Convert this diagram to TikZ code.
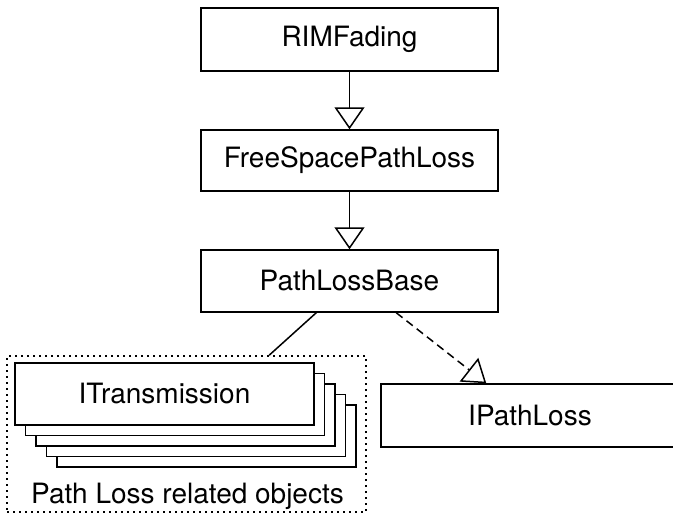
\documentclass[tikz,border=0pt]{standalone}
\usepackage{fontspec}
\setmainfont{TeX Gyre Heros}
\usetikzlibrary{arrows.meta,calc}
\begin{document}
\begin{tikzpicture}[x=1pt,y=-1pt,
  every node/.style={font=\fontsize{28}{33}\selectfont},
  box/.style={draw, line width=1.5pt, fill=white, inner sep=0pt},
  grpbox/.style={draw, line width=1.6pt, dash pattern=on 2pt off 4pt, inner sep=0pt},
  inh/.style={line width=1.5pt, -{Triangle[open, length=22pt, width=30pt, line width=1.5pt]}},
  link/.style={line width=1.5pt}
]
\useasboundingbox (0,0) rectangle (673,514);
\clip (0,0) rectangle (673,514);

\node[box, minimum width=297pt, minimum height=63pt] (rim) at (349.5,39.5) {RIMFading};
\node[box, minimum width=297pt, minimum height=61pt] (fsp) at (349.5,160.5) {FreeSpacePathLoss};
\node[box, minimum width=297pt, minimum height=62pt] (plb) at (349.5,281) {PathLossBase};
\node[box, minimum width=298pt, minimum height=63pt] (ipl) at (530,415.5) {IPathLoss};

\node[grpbox, minimum width=359pt, minimum height=156pt] (grp) at (186.5,434) {};
\foreach \k in {4,3,2,1} {
  \node[box, minimum width=299pt, minimum height=62pt] (st\k) at ({164.5+10.5*\k},{394+10.5*\k}) {};
}
\node[box, minimum width=299pt, minimum height=62pt] (itr) at (164.5,394) {ITransmission};
\node[anchor=base] (lbl) at (187.5,503) {Path Loss related objects};

\draw[inh] (rim) -- (fsp);
\draw[inh] (fsp) -- (plb);
\draw[link] ($(plb.south west)+(116,0)$) -- ($(grp.north west)+(263,0)$);
\draw[inh, dash pattern=on 8pt off 5pt] ($(plb.south west)+(196,0)$) -- ($(ipl.north west)+(106,0)$);
\end{tikzpicture}
\end{document}
